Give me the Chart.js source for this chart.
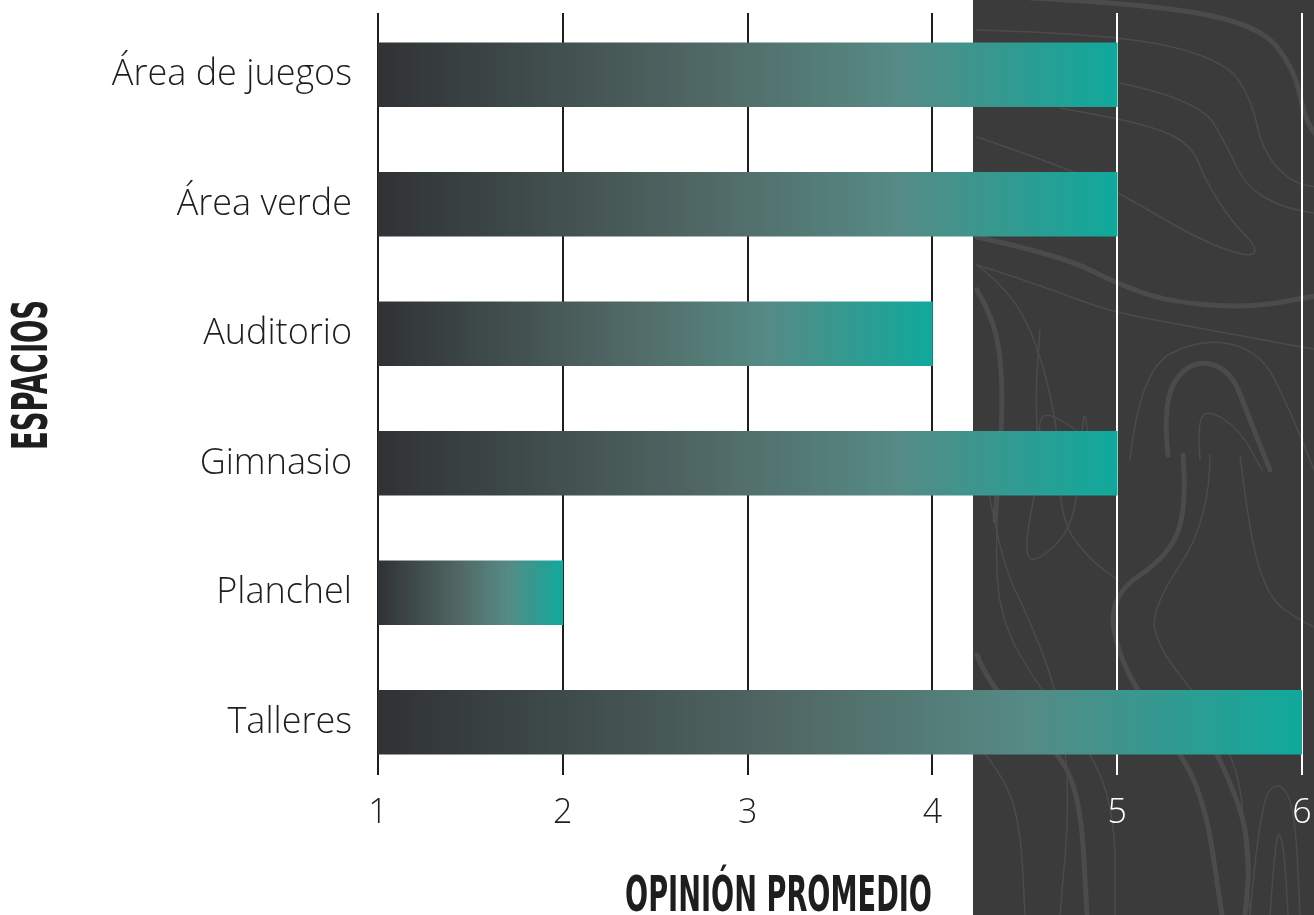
<!DOCTYPE html>
<html>
<head>
<meta charset="utf-8">
<script src="https://cdn.jsdelivr.net/npm/chart.js@4.4.1/dist/chart.umd.min.js"></script>
<style>
  html, body { margin: 0; padding: 0; background: #fff; }
  #wrap { width: 1314px; height: 915px; }
</style>
</head>
<body>
<div id="wrap"><canvas id="espacios" width="1314" height="915"></canvas></div>
<script>
var espacios = ['Área de juegos', 'Área verde', 'Auditorio', 'Gimnasio', 'Planchel', 'Talleres'];
var opinion = [5, 5, 4, 5, 2, 6];
var escala = [1, 2, 3, 4, 5, 6];
var tituloX = 'OPINIÓN PROMEDIO';
var tituloY = 'ESPACIOS';

var labelFont = '"Open Sans", "Lato", sans-serif';
var titleFont = '"Liberation Sans Narrow", "DejaVu Sans Condensed", sans-serif';
var panelLeft = 973;

// decorative contour lines for the dark panel
var topo = [
  {w: 5, p: [[1030,-2],[1150,4],[1260,25],[1295,70],[1305,120],[1320,140]]},
  {w: 1.5, p: [[977,30],[1120,34],[1225,60],[1252,100],[1262,150],[1290,182],[1320,188]]},
  {w: 1.5, p: [[1120,83],[1200,100],[1228,148],[1245,185],[1280,207],[1320,214]]},
  {w: 1.5, p: [[977,137],[1080,172],[1140,205],[1200,240],[1250,258],[1258,248],[1232,222],[1205,180],[1192,145],[1150,125],[1060,108]]},
  {w: 5, p: [[977,237],[1060,255],[1120,285],[1170,302],[1250,308],[1320,295]]},
  {w: 1.5, p: [[977,265],[1040,285],[1110,312],[1200,328],[1290,345],[1320,350]]},
  {w: 1.5, p: [[1130,460],[1140,370],[1200,338],[1260,350],[1290,410],[1314,470]]},
  {w: 5, p: [[1168,455],[1162,400],[1190,360],[1230,368],[1250,420],[1270,470]]},
  {w: 1.5, p: [[1200,460],[1197,420],[1210,410],[1240,430],[1262,470]]},
  {w: 1.5, p: [[977,265],[1010,290],[1040,350],[1060,440],[1060,520],[1090,560],[1118,580]]},
  {w: 1.5, p: [[1040,460],[1037,420],[1050,412],[1090,440],[1118,470]]},
  {w: 1.5, p: [[1090,460],[1085,395],[1080,460],[1073,530],[1030,567],[1025,540],[1040,470],[1035,400],[1040,330]]},
  {w: 5, p: [[977,290],[995,320],[1003,380],[1000,460],[995,520]]},
  {w: 5, p: [[1183,455],[1187,505],[1170,555],[1110,595],[1117,655],[1157,722],[1203,788],[1222,915]]},
  {w: 5, p: [[977,655],[990,688],[1047,738],[1080,790],[1087,915]]},
  {w: 1.5, p: [[1000,460],[995,540],[1000,620],[1040,690],[1085,740],[1115,810],[1115,915]]},
  {w: 1.5, p: [[985,470],[1000,560],[1030,620],[1060,700],[1070,800],[1060,915]]},
  {w: 1.5, p: [[1210,455],[1210,520],[1150,610],[1160,650],[1200,700],[1240,770],[1245,850],[1250,915]]},
  {w: 1.5, p: [[1240,455],[1250,540],[1270,600],[1300,620],[1320,630]]},
  {w: 1.5, p: [[1250,915],[1260,800],[1280,780],[1295,810],[1300,915]]},
  {w: 1.5, p: [[1270,915],[1275,845],[1280,830],[1285,860],[1288,915]]},
  {w: 1.5, p: [[977,745],[1000,770],[1020,820],[1025,915]]},
  {w: 5, p: [[1210,740],[1240,800],[1250,860],[1245,915]]}
];

function strokeSmooth(ctx, pts) {
  ctx.beginPath();
  ctx.moveTo(pts[0][0], pts[0][1]);
  for (var i = 1; i < pts.length - 1; i++) {
    var mx = (pts[i][0] + pts[i + 1][0]) / 2;
    var my = (pts[i][1] + pts[i + 1][1]) / 2;
    ctx.quadraticCurveTo(pts[i][0], pts[i][1], mx, my);
  }
  var last = pts[pts.length - 1];
  ctx.lineTo(last[0], last[1]);
  ctx.stroke();
}

var backdrop = {
  id: 'backdrop',
  beforeDraw: function (chart) {
    var ctx = chart.ctx;
    ctx.save();
    ctx.fillStyle = '#ffffff';
    ctx.fillRect(0, 0, chart.width, chart.height);
    ctx.fillStyle = '#3b3b3b';
    ctx.fillRect(panelLeft, 0, chart.width - panelLeft, chart.height);
    ctx.beginPath();
    ctx.rect(panelLeft, 0, chart.width - panelLeft, chart.height);
    ctx.clip();
    ctx.strokeStyle = '#4b4b4b';
    ctx.lineCap = 'round';
    topo.forEach(function (t) {
      ctx.lineWidth = t.w;
      strokeSmooth(ctx, t.p);
    });
    ctx.restore();
  },
  beforeDatasetsDraw: function (chart) {
    var ctx = chart.ctx;
    var x = chart.scales.x;
    var top = chart.chartArea.top + 3;
    var bottom = chart.chartArea.bottom - 12;
    ctx.save();
    ctx.lineWidth = 2;
    escala.forEach(function (v) {
      var px = Math.round(x.getPixelForValue(v));
      ctx.strokeStyle = px > panelLeft ? '#ffffff' : '#1e1e1e';
      ctx.beginPath();
      ctx.moveTo(px, top);
      ctx.lineTo(px, bottom);
      ctx.stroke();
    });
    ctx.restore();
  },
  afterDraw: function (chart) {
    var ctx = chart.ctx;
    ctx.save();
    ctx.fillStyle = '#1e1e1e';
    ctx.font = 'bold 50px ' + titleFont;
    ctx.textBaseline = 'alphabetic';

    // x title, squeezed to a condensed look
    var w = ctx.measureText(tituloX).width;
    var sx = 307 / w;
    ctx.save();
    ctx.translate(932, 911);
    ctx.scale(sx, 1);
    ctx.textAlign = 'right';
    ctx.fillText(tituloX, 0, 0);
    ctx.restore();

    // y title, rotated
    var wy = ctx.measureText(tituloY).width;
    var sy = 150 / wy;
    ctx.save();
    ctx.translate(47, 375);
    ctx.rotate(-Math.PI / 2);
    ctx.scale(sy, 1);
    ctx.textAlign = 'center';
    ctx.fillText(tituloY, 0, 0);
    ctx.restore();
    ctx.restore();
  }
};

function barGradient(context) {
  var chart = context.chart;
  var area = chart.chartArea;
  if (!area) return '#2a9d92';
  var x = chart.scales.x;
  var x0 = x.getPixelForValue(escala[0]);
  var x1 = x.getPixelForValue(context.raw);
  var g = chart.ctx.createLinearGradient(x0, 0, x1, 0);
  g.addColorStop(0, '#303234');
  g.addColorStop(0.45, '#516966');
  g.addColorStop(0.7, '#568a85');
  g.addColorStop(1, '#10a99c');
  return g;
}

new Chart(document.getElementById('espacios'), {
  type: 'bar',
  data: {
    labels: espacios,
    datasets: [{
      label: tituloX,
      data: opinion,
      backgroundColor: barGradient,
      borderWidth: 0,
      barThickness: 64
    }]
  },
  options: {
    indexAxis: 'y',
    responsive: false,
    animation: false,
    events: [],
    layout: { padding: { top: 10, right: 12, left: 0, bottom: 0 } },
    plugins: {
      legend: { display: false },
      tooltip: { enabled: false }
    },
    scales: {
      x: {
        min: escala[0],
        max: escala[escala.length - 1],
        grid: { display: false, drawTicks: false },
        border: { display: false },
        ticks: {
          stepSize: 1,
          padding: 6,
          font: { family: labelFont, size: 34, weight: 300 },
          color: function (c) { return c.tick.value >= 5 ? '#ffffff' : '#1e1e1e'; }
        },
        afterFit: function (s) {
          s.height = 128;
          s.paddingLeft = 0;
          s.paddingRight = 0;
        }
      },
      y: {
        grid: { display: false, drawTicks: false },
        border: { display: false },
        ticks: {
          padding: 26,
          font: { family: labelFont, size: 36, weight: 300 },
          color: '#1e1e1e'
        },
        afterFit: function (s) {
          s.width = 378;
          s.paddingTop = 0;
          s.paddingBottom = 0;
        }
      }
    }
  },
  plugins: [backdrop]
});
</script>
</body>
</html>
